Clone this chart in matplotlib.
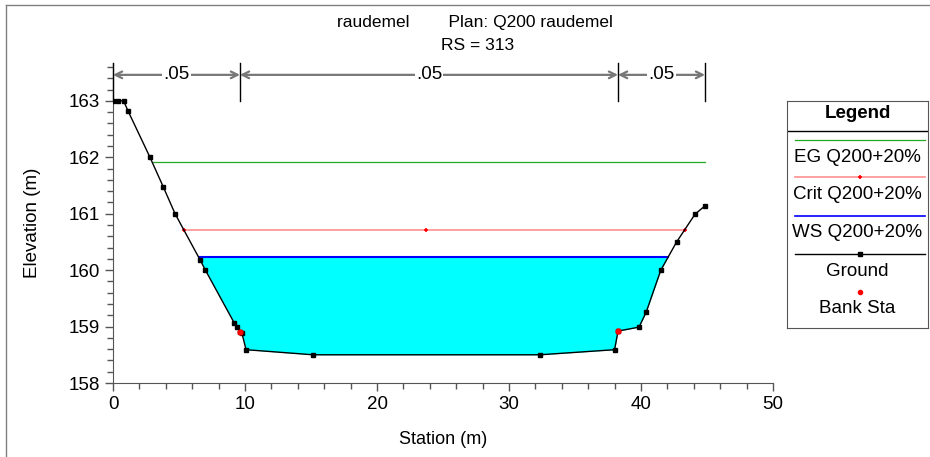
import numpy as np
import matplotlib.pyplot as plt
from matplotlib.lines import Line2D
from matplotlib.ticker import MultipleLocator

plt.rcParams['font.family'] = ['Liberation Sans', 'DejaVu Sans']

# cross section ground points
station = [0, 0.4, 0.8, 1.14, 2.8, 3.8, 4.7, 6.6, 7.0, 9.17, 9.4, 9.62, 9.77, 10.08,
           15.15, 32.35, 38.0, 38.26, 39.85, 40.4, 41.5, 42.7, 44.09, 44.85]
elev = [163.0, 163.0, 163.0, 162.82, 162.0, 161.48, 161.0, 160.18, 160.0, 159.07, 158.99,
        158.91, 158.88, 158.59, 158.5, 158.5, 158.59, 158.92, 158.99, 159.26, 160.0,
        160.5, 160.99, 161.14]

bank_sta = [9.62, 38.26]
bank_elev = [158.91, 158.92]

eg_sta = [2.97, 44.85]
eg_elev = 161.91
crit_sta = [5.37, 23.7, 43.3]
crit_elev = 160.71
ws_elev = 160.23

n_bounds = [0, 9.62, 38.26, 44.85]
n_vals = ['.05', '.05', '.05']

station = np.array(station)
elev = np.array(elev)

fig = plt.figure(figsize=(9.3, 4.57), dpi=100)
ax = fig.add_axes([113/930, 74/457, 660/930, 320/457])

# water
ax.fill_between(station, elev, ws_elev, where=elev < ws_elev, interpolate=True,
                color='#00FFFF', lw=0, zorder=1)
wet = elev < ws_elev
idx = np.where(wet)[0]
i0, i1 = idx[0], idx[-1]
xl = np.interp(ws_elev, [elev[i0], elev[i0-1]], [station[i0], station[i0-1]])
xr = np.interp(ws_elev, [elev[i1], elev[i1+1]], [station[i1], station[i1+1]])
ax.plot([xl, xr], [ws_elev, ws_elev], color='#0000FF', lw=1.5, zorder=2)

# energy grade and critical depth
ax.plot(eg_sta, [eg_elev]*2, color='#22AA22', lw=0.9, zorder=2)
ax.plot(crit_sta, [crit_elev]*3, color='#FF9999', lw=1.3, zorder=2)
ax.plot(crit_sta, [crit_elev]*3, ls='none', marker='+', color='red', ms=3, mew=1.2, zorder=3)

# ground
ax.plot(station, elev, color='black', lw=1, marker='s', ms=3, zorder=4)
ax.plot(bank_sta, bank_elev, ls='none', marker='o', color='red', ms=3.5, zorder=5)

ax.set_xlim(0, 50)
ax.set_ylim(158, 163.67)
ax.set_yticks([158, 159, 160, 161, 162, 163])
ax.xaxis.set_major_locator(MultipleLocator(10))
ax.xaxis.set_minor_locator(MultipleLocator(2))
ax.yaxis.set_minor_locator(MultipleLocator(0.2))
for s in ['top', 'right']:
    ax.spines[s].set_visible(False)
for s in ['left', 'bottom']:
    ax.spines[s].set_color('#555555')
ax.tick_params(which='major', direction='out', length=6, width=1, color='#555555', labelsize=13.5)
ax.tick_params(which='minor', direction='out', length=4, width=1, color='#555555')
ax.set_xlabel('Station (m)', fontsize=13, labelpad=13)
ax.set_ylabel('Elevation (m)', fontsize=13.5, labelpad=20)

# manning n regions
y_arr = 163.46
for i in range(len(n_vals)):
    a, b = n_bounds[i], n_bounds[i+1]
    ax.annotate('', xy=(a, y_arr), xytext=(b, y_arr),
                arrowprops=dict(arrowstyle='<->', color='#777777', lw=1.6,
                                shrinkA=0, shrinkB=0, mutation_scale=12), zorder=3)
    ax.text((a+b)/2, y_arr, n_vals[i], ha='center', va='center', fontsize=13.5,
            bbox=dict(facecolor='white', edgecolor='none', pad=1), zorder=4)
for x in n_bounds:
    ax.plot([x, x], [163.0, 163.67], color='black', lw=1, zorder=3, clip_on=False)

# titles
fig.text(475/930, 1 - 22/457, 'raudemel        Plan: Q200 raudemel', ha='center', va='center', fontsize=12.5)
fig.text(478/930, 1 - 45/457, 'RS = 313', ha='center', va='center', fontsize=12.5)

# outer frame
fig.add_artist(Line2D([6/930, 1], [1 - 5/457]*2, color='#808080', lw=1))
fig.add_artist(Line2D([6/930]*2, [0, 1 - 5/457], color='#808080', lw=1))

# legend box
lg = fig.add_axes([787/930, 129/457, 141/930, 227/457])
lg.set_xlim(0, 1)
lg.set_ylim(0, 1)
lg.set_xticks([])
lg.set_yticks([])
for s in lg.spines.values():
    s.set_color('#555555')
lg.text(0.5, 0.947, 'Legend', ha='center', va='center', fontsize=13.5, fontweight='bold')
lg.plot([0, 1], [0.868, 0.868], color='black', lw=1)
x0, x1 = 0.057, 0.98
lg.plot([x0, x1], [0.828]*2, color='#22AA22', lw=0.9)
lg.text(0.5, 0.753, 'EG Q200+20%', ha='center', va='center', fontsize=13.5)
lg.plot([x0, x1], [0.665]*2, color='#FF9999', lw=1.3)
lg.plot([(x0+x1)/2], [0.665], marker='+', color='red', ms=3, mew=1.2)
lg.text(0.5, 0.586, 'Crit Q200+20%', ha='center', va='center', fontsize=13.5)
lg.plot([x0, x1], [0.493]*2, color='#0000FF', lw=1.2)
lg.text(0.5, 0.419, 'WS Q200+20%', ha='center', va='center', fontsize=13.5)
lg.plot([x0, x1], [0.326]*2, color='black', lw=1)
lg.plot([(x0+x1)/2], [0.326], marker='s', color='black', ms=3)
lg.text(0.5, 0.251, 'Ground', ha='center', va='center', fontsize=13.5)
lg.plot([(x0+x1)/2], [0.159], marker='o', color='red', ms=3)
lg.text(0.5, 0.088, 'Bank Sta', ha='center', va='center', fontsize=13.5)

fig.savefig('out.png', dpi=100)
